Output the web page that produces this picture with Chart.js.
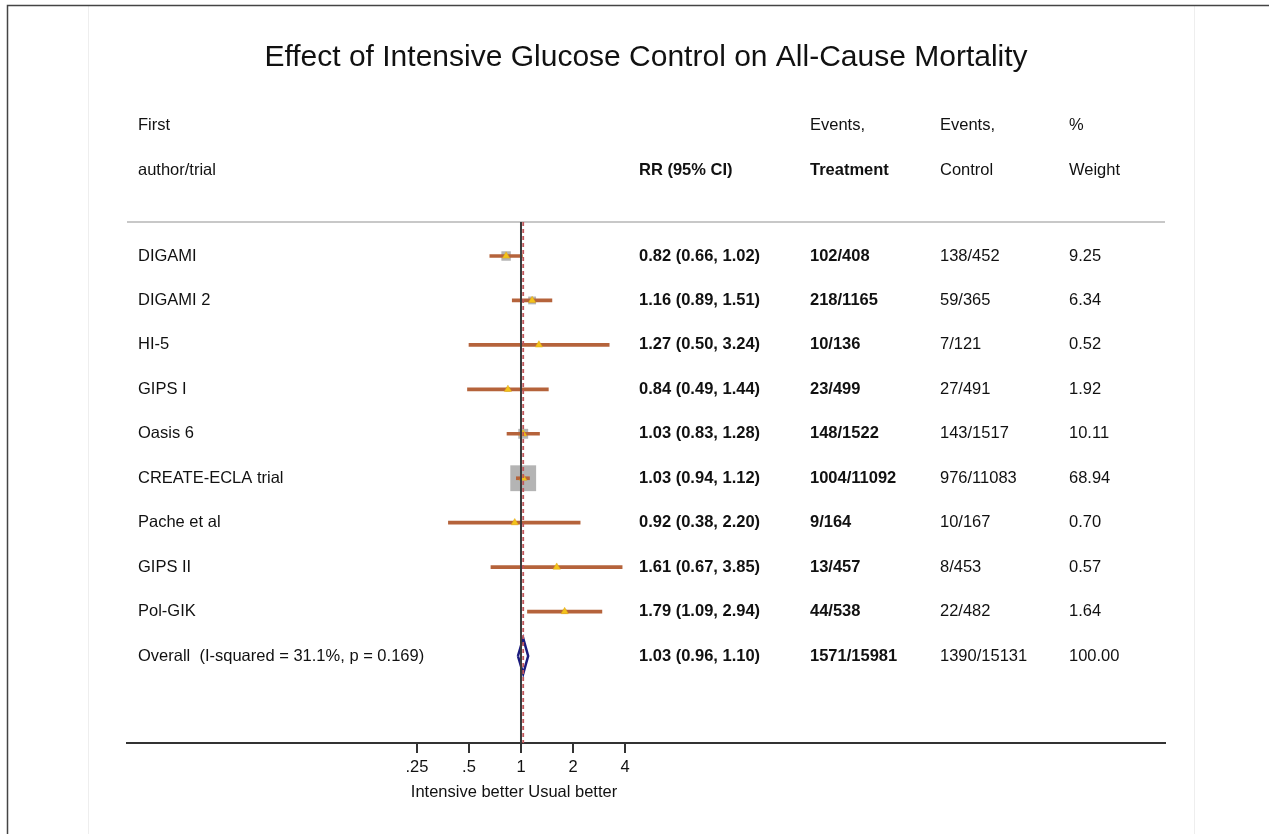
<!DOCTYPE html>
<html>
<head>
<meta charset="utf-8">
<script src="https://cdn.jsdelivr.net/npm/chart.js@4"></script>
<style>
  html, body { margin: 0; padding: 0; background: #fff; }
  #wrap { width: 1269px; height: 834px; }
</style>
</head>
<body>
<div id="wrap"><canvas id="forest" width="1269" height="834"></canvas></div>
<script>
/* Forest plot — intensive glucose control vs all-cause mortality */

// ── Data ─────────────────────────────────────────────────────────
const studies = ['DIGAMI', 'DIGAMI 2', 'HI-5', 'GIPS I', 'Oasis 6', 'CREATE-ECLA trial', 'Pache et al', 'GIPS II', 'Pol-GIK'];
const rr      = [0.82, 1.16, 1.27, 0.84, 1.03, 1.03, 0.92, 1.61, 1.79];
const ciLow   = [0.66, 0.89, 0.50, 0.49, 0.83, 0.94, 0.38, 0.67, 1.09];
const ciHigh  = [1.02, 1.51, 3.24, 1.44, 1.28, 1.12, 2.20, 3.85, 2.94];
const eventsTreatment = ['102/408', '218/1165', '10/136', '23/499', '148/1522', '1004/11092', '9/164', '13/457', '44/538'];
const eventsControl   = ['138/452', '59/365', '7/121', '27/491', '143/1517', '976/11083', '10/167', '8/453', '22/482'];
const weights = [9.25, 6.34, 0.52, 1.92, 10.11, 68.94, 0.70, 0.57, 1.64];

const overallLabel     = 'Overall  (I-squared = 31.1%, p = 0.169)';
const overallRR        = 1.03;
const overallLow       = 0.96;
const overallHigh      = 1.10;
const overallTreatment = '1571/15981';
const overallControl   = '1390/15131';
const overallWeight    = 100.00;

const tickValues = [0.25, 0.5, 1, 2, 4];
const tickLabels = ['.25', '.5', '1', '2', '4'];

// ── Layout / style ───────────────────────────────────────────────
const FONT = "'Liberation Sans', Arial, Helvetica, sans-serif";
const Y_MIN = -0.765, Y_MAX = 10.957;     // rows 0..9
const X_MIN = Math.pow(2, -7.577), X_MAX = Math.pow(2, 12.385);
const overallRow = studies.length;
const colX = { label: 138, rr: 639, treat: 810, ctrl: 940, weight: 1069 };

const fmtCI = (e, l, h) => `${e.toFixed(2)} (${l.toFixed(2)}, ${h.toFixed(2)})`;

const tablePlugin = {
  id: 'forestTable',
  beforeDraw(chart) {
    const ctx = chart.ctx;
    ctx.save();
    ctx.fillStyle = '#ffffff';
    ctx.fillRect(0, 0, chart.width, chart.height);
    // faint page guides
    ctx.strokeStyle = '#eeeeee';
    ctx.lineWidth = 1;
    ctx.beginPath();
    ctx.moveTo(88.5, 6); ctx.lineTo(88.5, chart.height);
    ctx.moveTo(1194.5, 6); ctx.lineTo(1194.5, chart.height);
    ctx.stroke();
    // outer frame
    ctx.strokeStyle = '#444';
    ctx.lineWidth = 1.5;
    ctx.beginPath();
    ctx.moveTo(7.5, chart.height); ctx.lineTo(7.5, 5.5); ctx.lineTo(chart.width, 5.5);
    ctx.stroke();
    // separator under header
    const a = chart.chartArea;
    ctx.strokeStyle = '#c8c8c8';
    ctx.lineWidth = 2;
    ctx.beginPath();
    ctx.moveTo(a.left, a.top); ctx.lineTo(a.right, a.top);
    ctx.stroke();
    ctx.restore();
  },
  afterDraw(chart) {
    const ctx = chart.ctx;
    const y = chart.scales.y;
    ctx.save();
    ctx.fillStyle = '#111';
    ctx.textBaseline = 'middle';

    // title
    ctx.font = `30px ${FONT}`;
    ctx.textAlign = 'center';
    ctx.fillText('Effect of Intensive Glucose Control on All-Cause Mortality', 646, 58);

    // header
    ctx.textAlign = 'left';
    ctx.font = `16.5px ${FONT}`;
    ctx.fillText('First', colX.label, 125);
    ctx.fillText('author/trial', colX.label, 170);
    ctx.fillText('Events,', colX.treat, 125);
    ctx.fillText('Events,', colX.ctrl, 125);
    ctx.fillText('Control', colX.ctrl, 170);
    ctx.fillText('%', colX.weight, 125);
    ctx.fillText('Weight', colX.weight, 170);
    ctx.font = `bold 16.5px ${FONT}`;
    ctx.fillText('RR (95% CI)', colX.rr, 170);
    ctx.fillText('Treatment', colX.treat, 170);

    // rows
    const rows = studies.map((s, i) => [s, fmtCI(rr[i], ciLow[i], ciHigh[i]), eventsTreatment[i], eventsControl[i], weights[i].toFixed(2)]);
    rows.push([overallLabel, fmtCI(overallRR, overallLow, overallHigh), overallTreatment, overallControl, overallWeight.toFixed(2)]);
    rows.forEach((r, i) => {
      const py = y.getPixelForValue(i);
      ctx.font = `16.5px ${FONT}`;
      ctx.fillText(r[0], colX.label, py);
      ctx.fillText(r[3], colX.ctrl, py);
      ctx.fillText(r[4], colX.weight, py);
      ctx.font = `bold 16.5px ${FONT}`;
      ctx.fillText(r[1], colX.rr, py);
      ctx.fillText(r[2], colX.treat, py);
    });

    // axis caption
    ctx.font = `16.5px ${FONT}`;
    ctx.textAlign = 'center';
    ctx.fillText('Intensive better Usual better', 514, 792);
    ctx.restore();
  }
};

const rowIdx = studies.map((_, i) => i);

new Chart(document.getElementById('forest'), {
  type: 'scatter',
  data: {
    datasets: [
      {
        // line of no effect
        type: 'scatter', showLine: true,
        data: [{ x: 1, y: Y_MIN }, { x: 1, y: Y_MAX }],
        borderColor: '#3a3a3a', borderWidth: 2, pointRadius: 0, order: 0
      },
      {
        // pooled estimate
        type: 'scatter', showLine: true,
        data: [{ x: overallRR, y: Y_MIN }, { x: overallRR, y: Y_MAX }],
        borderColor: '#c0565a', borderWidth: 1.8, borderDash: [4, 3], pointRadius: 0, order: 0
      },
      {
        // study weight squares
        type: 'scatter',
        data: rowIdx.map(i => ({ x: rr[i], y: i })),
        pointStyle: 'rect',
        pointRadius: c => 2.2 * Math.sqrt(weights[c.dataIndex]),
        backgroundColor: '#b4b4b4', borderWidth: 0, order: 4
      },
      {
        // confidence intervals
        type: 'bar', indexAxis: 'y', grouped: false,
        data: rowIdx.map(i => ({ x: [ciLow[i], ciHigh[i]], y: i })),
        backgroundColor: '#b5633b', barThickness: 3, order: 3
      },
      {
        // point estimates
        type: 'scatter',
        data: rowIdx.map(i => ({ x: rr[i], y: i })),
        pointStyle: 'triangle', pointRadius: 4.2,
        backgroundColor: '#f3c21a', borderColor: '#e0a818', borderWidth: 0.5, order: 2
      },
      {
        // overall diamond
        type: 'scatter', showLine: true,
        data: [
          { x: overallLow, y: overallRow },
          { x: overallRR, y: overallRow - 0.4 },
          { x: overallHigh, y: overallRow },
          { x: overallRR, y: overallRow + 0.4 },
          { x: overallLow, y: overallRow }
        ],
        borderColor: '#1b1b7d', borderWidth: 2.5, pointRadius: 0, order: 1
      }
    ]
  },
  options: {
    responsive: false,
    animation: false,
    events: [],
    layout: { padding: { left: 127, right: 104, top: 222, bottom: 0 } },
    plugins: { legend: { display: false }, tooltip: { enabled: false }, title: { display: false } },
    scales: {
      x: {
        type: 'logarithmic',
        min: X_MIN, max: X_MAX,
        offset: false,
        afterBuildTicks(scale) { scale.ticks = tickValues.map(v => ({ value: v })); },
        afterFit(scale) { scale.height = 91; },
        border: { display: true, color: '#333', width: 2 },
        grid: { offset: false, drawOnChartArea: false, drawTicks: true, tickLength: 10, color: '#333', lineWidth: 2 },
        ticks: {
          autoSkip: false, maxRotation: 0, padding: 5, color: '#111',
          font: { family: FONT, size: 16.5 },
          callback: v => tickLabels[tickValues.indexOf(v)]
        }
      },
      y: {
        type: 'linear', reverse: true, display: false,
        offset: false, grid: { offset: false },
        min: Y_MIN, max: Y_MAX
      }
    }
  },
  plugins: [tablePlugin]
});
</script>
</body>
</html>
